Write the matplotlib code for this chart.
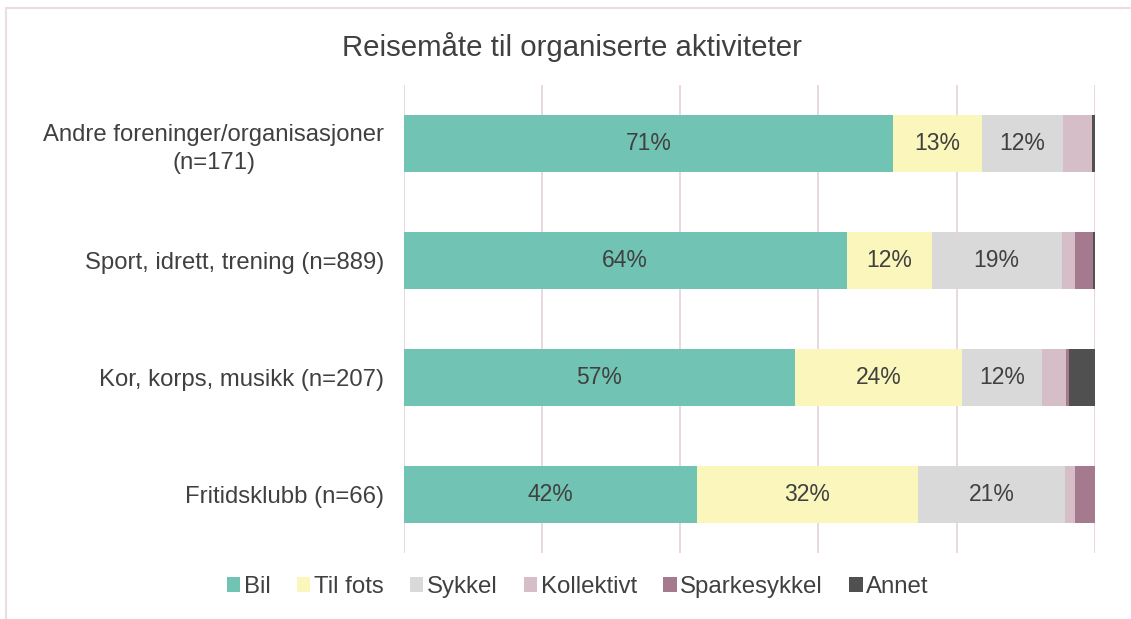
import numpy as np
import matplotlib.pyplot as plt
from matplotlib.lines import Line2D

plt.rcParams['font.family'] = ['Liberation Sans', 'DejaVu Sans']

# Data
categories = [
    "Andre foreninger/organisasjoner\n(n=171)",
    "Sport, idrett, trening (n=889)",
    "Kor, korps, musikk (n=207)",
    "Fritidsklubb (n=66)",
]
series = ["Bil", "Til fots", "Sykkel", "Kollektivt", "Sparkesykkel", "Annet"]
bil = [70.8, 64.1, 56.6, 42.4]
til_fots = [12.9, 12.3, 24.2, 32.0]
sykkel = [11.7, 18.8, 11.6, 21.3]
kollektivt = [4.2, 1.9, 3.5, 1.5]
sparkesykkel = [0.0, 2.6, 0.4, 2.8]
annet = [0.4, 0.3, 3.7, 0.0]

colors = ["#71c4b3", "#fbf6bc", "#d9d9d9", "#d5bec8", "#a67a8e", "#505050"]
labelled = {"Bil", "Til fots", "Sykkel"}
txt_color = "#404040"

fig = plt.figure(figsize=(11.31, 6.19), dpi=100)
ax = fig.add_axes([0.357, 0.1066, 0.611, 0.7561])

y = np.arange(len(categories))
left = np.zeros(len(categories))
values = [bil, til_fots, sykkel, kollektivt, sparkesykkel, annet]

for name, vals, col in zip(series, values, colors):
    vals = np.array(vals)
    bars = ax.barh(y, vals, left=left, height=0.49, color=col,
                   label=name, zorder=3)
    if name in labelled:
        for b, v in zip(bars, vals):
            ax.text(b.get_x() + b.get_width() / 2, b.get_y() + b.get_height() / 2,
                    f"{v:.0f}%", ha="center", va="center",
                    fontsize=16.5, color=txt_color, zorder=4)
    left = left + vals

ax.set_xlim(0, 100)
ax.set_ylim(3.5, -0.5)
ax.set_xticks(np.arange(0, 101, 20))
ax.tick_params(axis="x", length=0, labelbottom=False)
ax.tick_params(axis="y", length=0, pad=14)
ax.set_yticks(y)
ax.set_yticklabels(categories, fontsize=17.2, color=txt_color)
for lbl in ax.get_yticklabels():
    lbl.set_multialignment("center")
    lbl.set_linespacing(1.35)
ax.grid(axis="x", color="#e6d5dd", lw=1.3, zorder=0)
for s in ax.spines.values():
    s.set_visible(False)

fig.suptitle("Reisemåte til organiserte aktiviteter", x=0.506, y=0.948,
             fontsize=21.2, color=txt_color)

handles, labels = ax.get_legend_handles_labels()
fig.legend(handles, labels, loc="center", bbox_to_anchor=(0.511, 0.052),
           ncol=6, frameon=False, fontsize=17.3, handlelength=0.55,
           handleheight=0.55, handletextpad=0.15, columnspacing=1.1,
           labelcolor=txt_color)

# frame lines (left and top only)
fig.add_artist(Line2D([0.005, 0.005], [0.0, 0.987], transform=fig.transFigure,
                      color="#ebdde3", lw=1.5))
fig.add_artist(Line2D([0.005, 1.0], [0.987, 0.987], transform=fig.transFigure,
                      color="#ebdde3", lw=1.5))

fig.savefig("out.png", dpi=100)
